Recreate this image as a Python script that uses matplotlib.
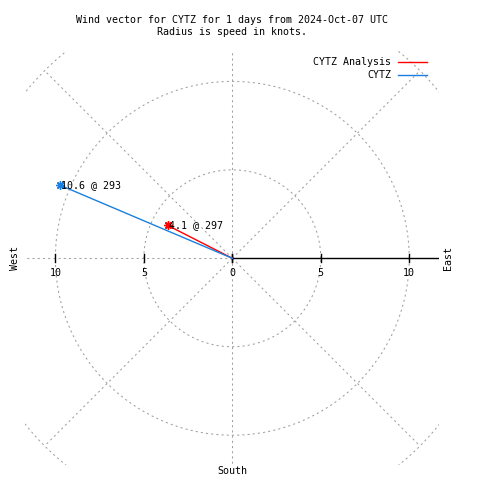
import numpy as np
import matplotlib
matplotlib.use("Agg")
import matplotlib.pyplot as plt

# wind vectors (speed in knots, direction in degrees from north)
series_names = ["CYTZ Analysis", "CYTZ"]
speeds = [4.1, 10.6]
directions = [297, 293]
series_colors = ["#ff0000", "#1a7fe0"]

grid_radii = [5, 10, 15]
grid_angles = [0, 45, 90, 135, 180, 225, 270, 315]
tick_values = [0, 5, 10]

title = "Wind vector for CYTZ for 1 days from 2024-Oct-07 UTC\nRadius is speed in knots."

plt.rcParams["font.family"] = ["DejaVu Sans Mono"]
FS = 7.2
GRID = "#a0a0a0"
DASH = (0, (2, 3))

fig = plt.figure(figsize=(4.8, 4.8), dpi=100)
lim = 11.7
ax = fig.add_axes([0.0527, 0.0306, 0.8625, 0.8625])
ax.set_xlim(-lim, lim)
ax.set_ylim(-lim, lim)
ax.set_aspect("equal")
ax.axis("off")

# polar grid: circles and radial lines
t = np.linspace(0, 2 * np.pi, 721)
for r in grid_radii:
    ax.plot(r * np.cos(t), r * np.sin(t), color=GRID, lw=0.75, ls=DASH)
rmax = max(grid_radii)
for a in grid_angles:
    if a == 90:
        continue  # east side is drawn as the solid r axis
    ang = np.radians(a)
    ax.plot([0, rmax * np.sin(ang)], [0, rmax * np.cos(ang)],
            color=GRID, lw=0.75, ls=DASH)

# r axis to the east, with ticks
ax.plot([0, lim], [0, 0], color="black", lw=1.0)
for v in tick_values:
    for s in (-1, 1):
        ax.plot([s * v, s * v], [-0.22, 0.22], color="black", lw=1.0)

# tick labels (0 shared by both sides)
for v in tick_values:
    ax.text(v, -0.85, str(v), ha="center", va="center", fontsize=FS)
    if v != 0:
        ax.text(-v, -0.85, str(v), ha="center", va="center", fontsize=FS)

# wind vectors
for name, spd, d, c in zip(series_names, speeds, directions, series_colors):
    ang = np.radians(d)
    x, y = spd * np.sin(ang), spd * np.cos(ang)
    ax.plot([0, x], [0, y], color=c, lw=1.0)
    ax.plot(x, y, marker=(8, 2, 0), ms=6, mec=c, mew=1.0, ls="none")
    ax.text(x + 0.1, y, f"{spd} @ {d}", ha="left", va="center", fontsize=FS)

# compass labels
ax.text(-12.3, 0, "West", rotation=90, ha="center", va="center", fontsize=FS, clip_on=False)
ax.text(12.2, 0, "East", rotation=90, ha="center", va="center", fontsize=FS, clip_on=False)
ax.text(0, -12.0, "South", ha="center", va="center", fontsize=FS, clip_on=False)

# legend (gnuplot style, text right aligned)
for i, (name, c) in enumerate(zip(series_names, series_colors)):
    yp = 1 - (62 + 13 * i) / 480
    fig.text(391 / 480, yp, name, ha="right", va="center", fontsize=FS)
    fig.add_artist(plt.Line2D([398 / 480, 427 / 480], [yp, yp], color=c, lw=1.0))

fig.text(232 / 480, 1 - 26 / 480, title, ha="center", va="center", fontsize=FS, linespacing=1.25)

fig.savefig("out.png", dpi=100)
